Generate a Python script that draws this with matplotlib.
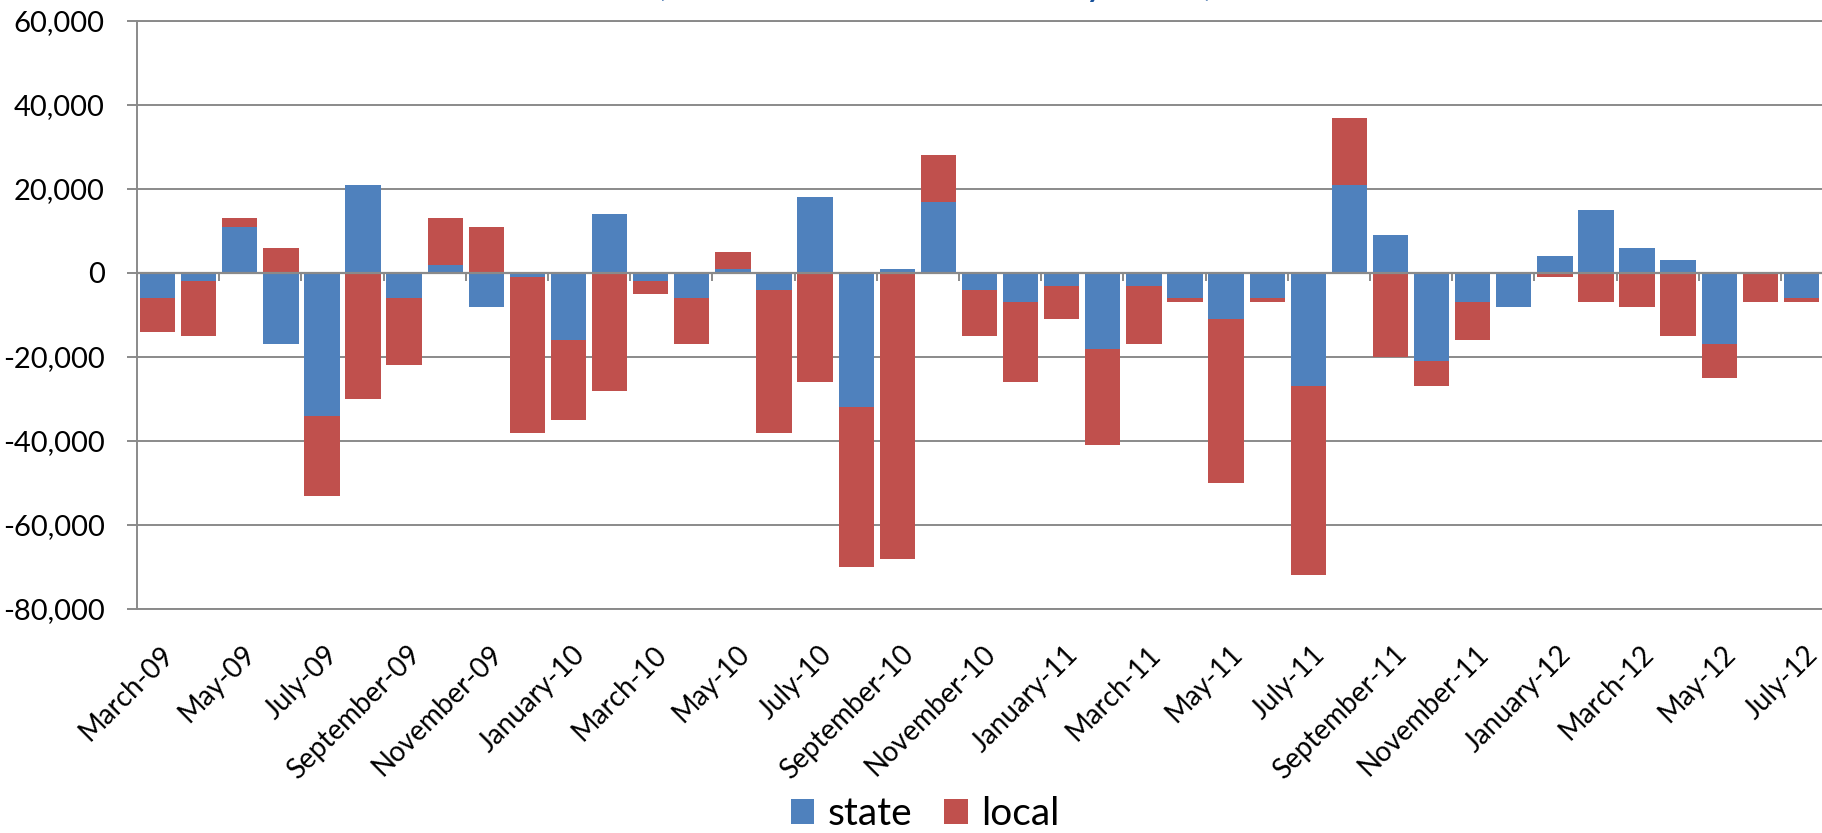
import matplotlib
matplotlib.use("Agg")
import matplotlib.pyplot as plt
import matplotlib.transforms as mtransforms
from matplotlib.ticker import FuncFormatter, MultipleLocator
import numpy as np

plt.rcParams['font.family'] = ['Lato', 'DejaVu Sans']

months = ["March-09", "April-09", "May-09", "June-09", "July-09", "August-09",
          "September-09", "October-09", "November-09", "December-09",
          "January-10", "February-10", "March-10", "April-10", "May-10",
          "June-10", "July-10", "August-10", "September-10", "October-10",
          "November-10", "December-10", "January-11", "February-11",
          "March-11", "April-11", "May-11", "June-11", "July-11",
          "August-11", "September-11", "October-11", "November-11",
          "December-11", "January-12", "February-12", "March-12",
          "April-12", "May-12", "June-12", "July-12"]

state = [-6000, -2000, 11000, -17000, -34000, 21000, -6000, 2000, -8000, -1000,
         -16000, 14000, -2000, -6000, 1000, -4000, 18000, -32000, 1000, 17000,
         -4000, -7000, -3000, -18000, -3000, -6000, -11000, -6000, -27000,
         21000, 9000, -21000, -7000, -8000, 4000, 15000, 6000, 3000, -17000,
         0, -6000]

local = [-8000, -13000, 2000, 6000, -19000, -30000, -16000, 11000, 11000, -37000,
         -19000, -28000, -3000, -11000, 4000, -34000, -26000, -38000, -68000, 11000,
         -11000, -19000, -8000, -23000, -14000, -1000, -39000, -1000, -45000,
         16000, -20000, -6000, -9000, 0, -1000, -7000, -8000, -15000, -8000,
         -7000, -1000]

series_names = ["state", "local"]
colors = ["#4F81BD", "#C0504D"]
title_text = "(State and Local Monthly Data)"

W, H = 1822, 833
fig = plt.figure(figsize=(W / 100, H / 100), dpi=100)
ax = fig.add_axes([137 / W, 1 - 609 / H, 1685 / W, (609 - 21) / H])

x = np.arange(len(months))
s = np.array(state, dtype=float)
l = np.array(local, dtype=float)
# Excel-style stacking: positives stack upward, negatives downward
local_bottom = np.where((l >= 0) & (s > 0), s, np.where((l < 0) & (s < 0), s, 0))

ax.bar(x, s, width=0.86, color=colors[0], label=series_names[0], zorder=2, linewidth=0)
ax.bar(x, l, width=0.86, bottom=local_bottom, color=colors[1], label=series_names[1],
       zorder=2, linewidth=0)

grid_c = "#8A8A8A"
ax.set_xlim(-0.5, len(months) - 0.5)
ax.set_ylim(-80000, 60000)
ax.yaxis.set_major_locator(MultipleLocator(20000))
ax.yaxis.set_major_formatter(FuncFormatter(lambda v, p: f"{v:,.0f}"))
ax.grid(axis='y', color=grid_c, linewidth=1.4, zorder=0)
ax.set_axisbelow(True)

ax.spines['right'].set_visible(False)
for side in ['left', 'top', 'bottom']:
    ax.spines[side].set_color(grid_c)
    ax.spines[side].set_linewidth(1.4)

ax.tick_params(axis='y', direction='out', length=7.2, width=1.4, color=grid_c,
               labelsize=21, pad=16, labelcolor='black')

# zero line (category axis) over bars with ticks between every 2 categories
ax.axhline(0, color=grid_c, linewidth=1.6, zorder=3)
tick_pos = np.arange(1.5, len(months) - 1, 2)
ax.plot(tick_pos, np.zeros_like(tick_pos), linestyle='none', marker=3,
        markersize=6, markeredgewidth=1.4, color=grid_c, zorder=3, clip_on=False)

ax.set_xticks(x[::2])
ax.set_xticklabels(months[::2], rotation=45, ha='right', va='top',
                   rotation_mode='anchor', fontsize=20)
ax.tick_params(axis='x', length=0, pad=23)
offset = mtransforms.ScaledTranslation(3 / 100, 0, fig.dpi_scale_trans)
for lab in ax.get_xticklabels():
    lab.set_transform(lab.get_transform() + offset)

# title (mostly cut off at top edge in the reference)
fig.text(935 / W, 1 + 5 / H, title_text, ha='center', va='baseline',
         fontsize=29.7, color='#17519B')

leg = fig.legend(loc='center', bbox_to_anchor=(925 / W, 1 - 814 / H), ncol=2,
                 frameon=False, fontsize=28, handlelength=0.6, handleheight=0.6,
                 handletextpad=0.33, columnspacing=0.84, borderpad=0, borderaxespad=0)

fig.savefig("out.png", dpi=100)
